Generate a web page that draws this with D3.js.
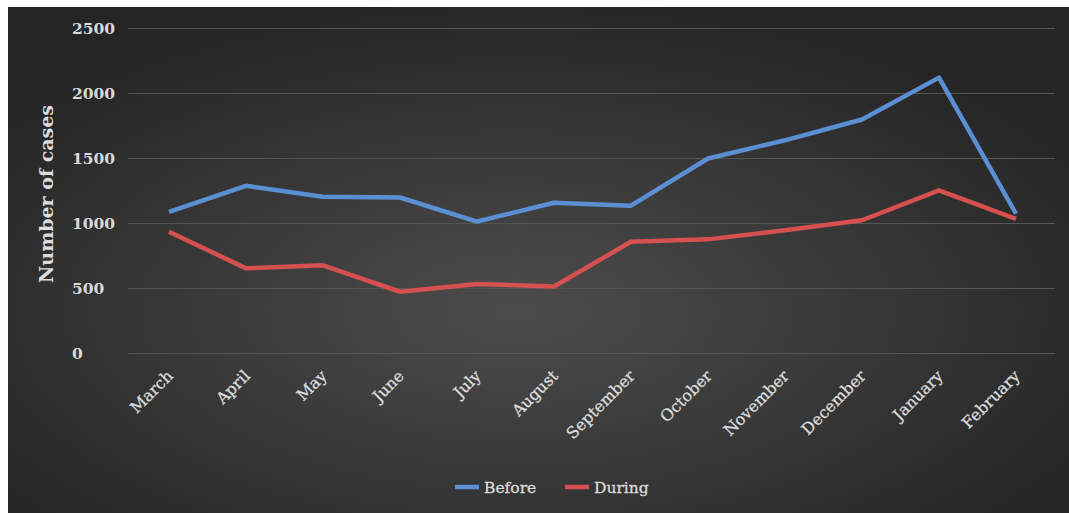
<!DOCTYPE html>
<html>
<head>
<meta charset="utf-8">
<script src="https://cdn.jsdelivr.net/npm/d3@7"></script>
<style>
  body { margin: 0; background: #ffffff; }
  svg { display: block; }
</style>
</head>
<body>
<div id="chart"></div>
<script>
// data
var months = ["March", "April", "May", "June", "July", "August", "September",
              "October", "November", "December", "January", "February"];
var before = [1090, 1290, 1205, 1200, 1015, 1160, 1137, 1500, 1640, 1800, 2122, 1075];
var during = [937, 655, 678, 475, 535, 515, 860, 878, 948, 1025, 1255, 1036];
var yTicks = [0, 500, 1000, 1500, 2000, 2500];

var W = 1069, H = 513;
var svg = d3.select("#chart")
  .append("svg")
    .attr("width", W)
    .attr("height", H);

// dark radial background
var defs = svg.append("defs");
var grad = defs.append("radialGradient")
    .attr("id", "bg")
    .attr("cx", "48%").attr("cy", "60%").attr("r", "62%");
grad.append("stop").attr("offset", "0%").attr("stop-color", "#4c4c4c");
grad.append("stop").attr("offset", "100%").attr("stop-color", "#252525");

svg.append("rect")
    .attr("x", 8).attr("y", 7)
    .attr("width", W - 8).attr("height", H - 7)
    .attr("fill", "url(#bg)");

var x = d3.scalePoint()
    .domain(months)
    .range([130.5, 1054.5])
    .padding(0.5);
var y = d3.scaleLinear()
    .domain([0, 2500])
    .range([353.5, 28.5]);

// gridlines
svg.append("g")
  .selectAll("line")
  .data(yTicks)
  .join("line")
    .attr("x1", 128).attr("x2", 1055)
    .attr("y1", function(d) { return y(d); })
    .attr("y2", function(d) { return y(d); })
    .attr("stroke", "#555555")
    .attr("stroke-width", 1);

// y tick labels (left aligned, like the original)
svg.append("g")
  .selectAll("text")
  .data(yTicks)
  .join("text")
    .attr("x", 72)
    .attr("y", function(d) { return y(d) + 5; })
    .attr("font-family", "DejaVu Serif")
    .attr("font-weight", "bold")
    .attr("font-size", 15.5)
    .attr("fill", "#d9d9d9")
    .text(function(d) { return d; });

// x labels, rotated
svg.append("g")
  .selectAll("text")
  .data(months)
  .join("text")
    .attr("transform", function(d) {
      return "translate(" + (x(d) + 5) + "," + 377 + ") rotate(-45)";
    })
    .attr("text-anchor", "end")
    .attr("font-family", "DejaVu Serif")
    .attr("font-size", 16)
    .attr("fill", "#dcdcdc")
    .attr("stroke", "#dcdcdc")
    .attr("stroke-width", 0.3)
    .text(function(d) { return d; });

// y axis title
svg.append("text")
    .attr("transform", "translate(53,194) rotate(-90)")
    .attr("text-anchor", "middle")
    .attr("font-family", "DejaVu Serif")
    .attr("font-weight", "bold")
    .attr("font-size", 19)
    .attr("fill", "#dcdcdc")
    .text("Number of cases");

// lines
var line = d3.line()
    .x(function(d, i) { return x(months[i]); })
    .y(function(d) { return y(d); });

svg.append("path")
    .datum(before)
    .attr("fill", "none")
    .attr("stroke", "#5b8fd4")
    .attr("stroke-width", 4.5)
    .attr("stroke-linejoin", "round")
    .attr("d", line);

svg.append("path")
    .datum(during)
    .attr("fill", "none")
    .attr("stroke", "#d5504f")
    .attr("stroke-width", 4.5)
    .attr("stroke-linejoin", "round")
    .attr("d", line);

// legend
var legend = [
  {name: "Before", color: "#5b8fd4", x: 455},
  {name: "During", color: "#d5504f", x: 565}
];
var lg = svg.append("g")
  .selectAll("g")
  .data(legend)
  .join("g")
    .attr("transform", function(d) { return "translate(" + d.x + ",487)"; });
lg.append("line")
    .attr("x1", 0).attr("x2", 24)
    .attr("stroke", function(d) { return d.color; })
    .attr("stroke-width", 4.5);
lg.append("text")
    .attr("x", 29).attr("y", 6)
    .attr("font-family", "DejaVu Serif")
    .attr("font-size", 15.5)
    .attr("fill", "#dcdcdc")
    .attr("stroke", "#dcdcdc")
    .attr("stroke-width", 0.3)
    .text(function(d) { return d.name; });
</script>
</body>
</html>
